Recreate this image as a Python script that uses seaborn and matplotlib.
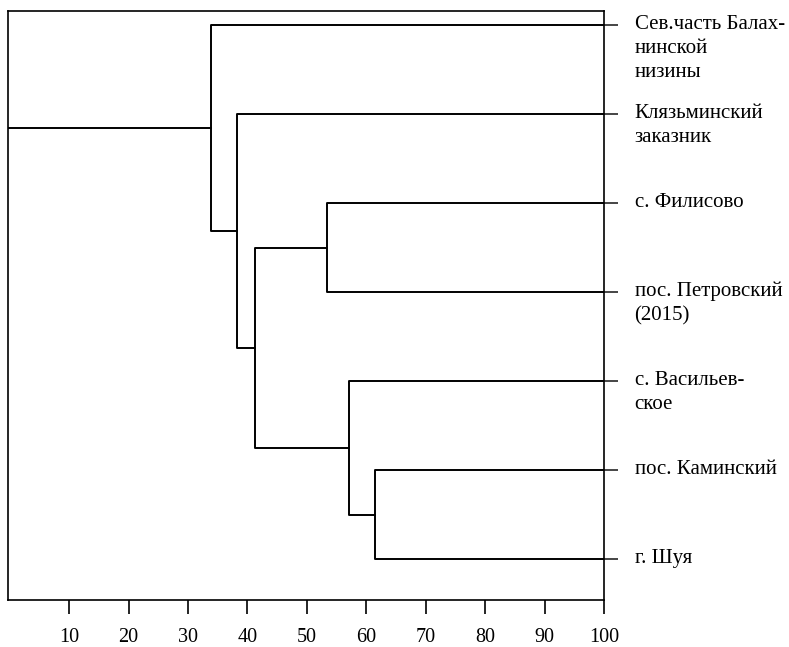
import matplotlib
matplotlib.use("Agg")
import matplotlib.pyplot as plt
import seaborn as sns
import pandas as pd

# Leaves, top to bottom
leaf_labels = [
    "Сев.часть Балах-\nнинской\nнизины",
    "Клязьминский\nзаказник",
    "с. Филисово",
    "пос. Петровский\n(2015)",
    "с. Васильев-\nское",
    "пос. Каминский",
    "г. Шуя",
]
leaf_level = 100

# Agglomeration steps: (left child, right child, level); children >= 7 refer to earlier steps
merge_left = [5, 4, 2, 9, 1, 0]
merge_right = [6, 7, 3, 8, 10, 11]
merge_level = [61.5, 57.1, 53.4, 41.3, 38.2, 33.9]

x_ticks = [10, 20, 30, 40, 50, 60, 70, 80, 90, 100]

sns.set_style("white")
plt.rcParams["font.family"] = ["Liberation Serif", "DejaVu Serif"]

n = len(leaf_labels)
pos_x = {i: leaf_level for i in range(n)}
pos_y = {i: float(i) for i in range(n)}

rows = []
seg = 0
for k, (a, b, lev) in enumerate(zip(merge_left, merge_right, merge_level)):
    node = n + k
    # U-shaped connector: child a -> node level -> child b
    for px, py in [(pos_x[a], pos_y[a]), (lev, pos_y[a]), (lev, pos_y[b]), (pos_x[b], pos_y[b])]:
        rows.append({"x": px, "y": py, "seg": seg})
    seg += 1
    pos_x[node] = lev
    pos_y[node] = (pos_y[a] + pos_y[b]) / 2

x_left = -0.3
root = n + len(merge_level) - 1
for px in (pos_x[root], x_left):
    rows.append({"x": px, "y": pos_y[root], "seg": seg})

segments = pd.DataFrame(rows)

fig = plt.figure(figsize=(7.89, 6.47), dpi=100)
ax = fig.add_axes([8 / 789, 47 / 647, 596 / 789, 589 / 647])

sns.lineplot(data=segments, x="x", y="y", units="seg", estimator=None, sort=False,
             color="black", linewidth=1.4, ax=ax, legend=False)

ax.set_xlim(x_left, 100)
ax.set_ylim(n - 1 + 0.46, -0.16)
ax.set_xlabel("")
ax.set_ylabel("")

for side in ["left", "right", "top", "bottom"]:
    ax.spines[side].set_visible(True)
    ax.spines[side].set_color("black")
    ax.spines[side].set_linewidth(1.2)

ax.set_xticks(x_ticks)
ax.set_xticklabels([str(t) for t in x_ticks], fontsize=14.5)
ax.tick_params(axis="x", direction="out", length=10, width=1.2, pad=10,
               bottom=True, colors="black")

ax.yaxis.tick_right()
ax.set_yticks(range(n))
ax.set_yticklabels([""] * n)
ax.tick_params(axis="y", direction="out", length=10, width=1.2, right=True, left=False)

# First line of each label sits on its leaf
for i, lab in enumerate(leaf_labels):
    ax.annotate(lab, xy=(1, i), xycoords=("axes fraction", "data"),
                xytext=(22, 7.5), textcoords="offset points",
                ha="left", va="top", fontsize=15, linespacing=1.36,
                color="black", annotation_clip=False)

fig.savefig("out.png", dpi=100)
